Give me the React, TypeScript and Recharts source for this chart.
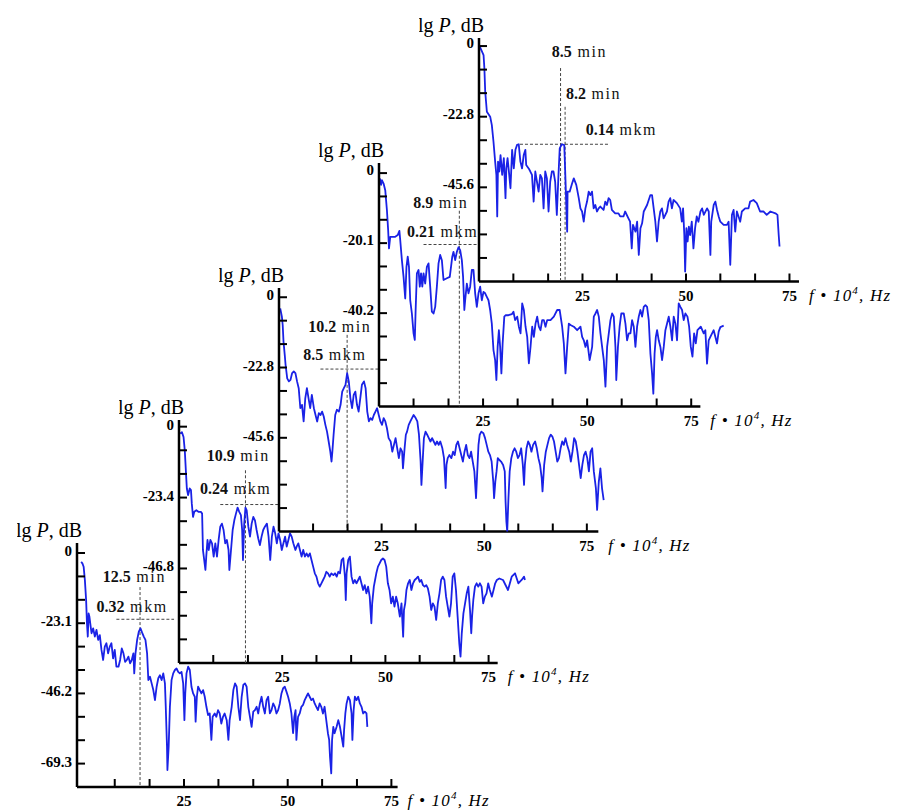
import React from 'react';
import {
  LineChart,
  Line,
  XAxis,
  YAxis,
  CartesianGrid,
  ReferenceLine,
  ReferenceDot,
} from 'recharts';

type Pair = [number, number];

const SERIF = '"Liberation Serif", "DejaVu Serif", serif';
const CURVE = '#1a22e6';
const GUIDE = '#444';

// lg P (dB) against f·10^4 (Hz); one spectrum per panel, front panel first
const spectrum125: Pair[] = [
  [0.2, -2.9], [0.5, -3.4], [0.8, -4.5], [1.1, -8.9], [1.4, -15.5], [1.6, -23.1], [1.8, -27.5], [2.0, -19.9],
  [2.2, -21.0], [2.5, -24.2], [2.7, -26.4], [3.1, -24.8], [3.5, -27.5], [3.9, -25.3], [4.3, -28.6], [4.7, -27.0],
  [5.1, -31.9], [5.5, -35.2], [5.9, -30.8], [6.3, -29.7], [6.7, -33.0], [7.1, -30.8], [7.5, -29.7], [7.9, -34.7],
  [8.3, -31.9], [8.7, -37.4], [9.2, -37.4], [9.6, -35.2], [10.0, -31.4], [10.4, -33.0], [10.8, -35.8], [11.2, -35.2],
  [11.6, -34.1], [12.0, -36.3], [12.4, -35.2], [12.8, -33.0], [13.0, -39.6], [13.3, -33.0], [13.7, -28.6], [14.1, -25.9],
  [14.5, -24.8], [14.9, -26.2], [15.3, -27.5], [15.7, -28.6], [16.1, -33.0], [16.4, -41.8], [16.8, -40.7], [17.2, -42.9],
  [17.6, -45.1], [18.0, -48.4], [18.4, -44.0], [18.8, -41.2], [19.2, -40.2], [19.6, -41.8], [20.0, -39.6], [20.4, -42.9],
  [20.6, -50.6], [20.9, -63.7], [21.0, -71.4], [21.3, -63.7], [21.6, -50.6], [22.0, -41.8], [22.4, -39.6], [22.8, -38.5],
  [23.2, -38.0], [23.6, -39.1], [24.0, -39.6], [24.4, -39.1], [24.8, -42.9], [25.1, -55.0], [25.3, -46.2], [25.6, -39.6],
  [26.0, -37.4], [26.4, -38.5], [26.8, -44.0], [27.2, -46.2], [27.6, -47.3], [27.8, -55.5], [28.1, -47.3], [28.4, -44.0],
  [28.8, -45.1], [29.2, -46.2], [29.6, -45.1], [30.0, -47.3], [30.4, -50.6], [30.8, -53.3], [31.2, -52.8], [31.6, -61.5],
  [31.9, -53.9], [32.4, -52.8], [32.8, -53.9], [33.2, -51.7], [33.6, -52.8], [34.0, -56.1], [34.4, -53.9], [34.8, -52.8],
  [35.3, -55.0], [35.7, -61.5], [36.0, -55.0], [36.5, -50.6], [36.9, -45.1], [37.3, -42.9], [37.7, -44.0], [38.1, -50.6],
  [38.5, -55.0], [38.9, -47.3], [39.3, -43.4], [39.7, -42.9], [40.1, -44.0], [40.5, -50.6], [40.9, -53.9], [41.3, -57.2],
  [41.7, -52.2], [42.1, -51.7], [42.5, -50.6], [42.9, -52.8], [43.3, -49.5], [43.7, -47.3], [44.1, -50.6], [44.5, -52.8],
  [44.9, -48.4], [45.3, -47.3], [45.7, -52.8], [46.1, -51.7], [46.5, -49.5], [46.9, -50.6], [47.3, -52.8], [47.7, -51.7],
  [48.1, -49.5], [48.5, -46.2], [48.9, -44.5], [49.3, -44.0], [49.7, -45.6], [50.1, -47.3], [50.5, -49.5], [50.9, -52.8],
  [51.3, -59.3], [51.6, -53.9], [51.9, -51.7], [52.1, -61.5], [52.5, -53.9], [52.9, -52.8], [53.3, -50.6], [53.7, -50.0],
  [54.1, -48.4], [54.5, -47.3], [54.9, -46.2], [55.3, -47.3], [55.7, -48.4], [56.1, -47.9], [56.5, -49.5], [56.9, -50.6],
  [57.3, -51.7], [57.7, -49.5], [58.1, -50.6], [58.5, -52.8], [58.9, -50.6], [59.3, -55.0], [59.7, -59.3], [60.0, -61.5],
  [60.2, -67.0], [60.5, -72.5], [60.7, -61.5], [61.0, -57.2], [61.3, -59.3], [61.8, -57.2], [62.2, -55.0], [62.6, -57.2],
  [63.0, -60.4], [63.4, -63.7], [63.6, -58.2], [63.9, -52.8], [64.2, -49.5], [64.6, -47.3], [65.0, -48.4], [65.4, -52.8],
  [65.6, -61.5], [65.9, -51.7], [66.2, -47.3], [66.6, -48.4], [67.0, -47.3], [67.4, -49.5], [67.8, -50.6], [68.2, -52.8],
  [68.6, -52.2], [69.0, -52.8], [69.2, -57.2],
];

const spectrum109: Pair[] = [
  [0.3, -2.3], [0.7, -1.8], [1.1, -3.4], [1.4, -7.8], [1.7, -15.5], [1.9, -20.4], [2.2, -22.6], [2.6, -20.4],
  [2.9, -20.9], [3.1, -25.4], [3.4, -29.8], [3.7, -28.1], [4.2, -27.6], [4.7, -28.1], [5.3, -28.1], [5.6, -28.7],
  [5.8, -40.7], [6.1, -44.0], [6.4, -47.3], [6.6, -42.9], [6.9, -37.4], [7.2, -40.7], [7.6, -37.4], [8.0, -38.5],
  [8.4, -42.9], [8.8, -38.5], [9.2, -42.9], [9.6, -37.4], [10.0, -33.0], [10.4, -32.0], [10.8, -34.1], [11.2, -38.5],
  [11.6, -37.4], [12.0, -40.7], [12.2, -47.3], [12.6, -40.7], [13.0, -34.1], [13.4, -30.9], [13.8, -28.7], [14.2, -26.7],
  [14.6, -28.1], [15.0, -29.2], [15.3, -34.1], [15.5, -44.0], [15.8, -32.0], [16.1, -26.7], [16.4, -27.6], [16.8, -33.0],
  [17.2, -36.3], [17.6, -32.0], [18.0, -29.8], [18.4, -30.9], [18.8, -34.1], [19.2, -36.9], [19.6, -39.1], [20.0, -36.3],
  [20.4, -34.1], [20.8, -33.0], [21.3, -32.0], [21.7, -36.3], [22.1, -44.0], [22.5, -36.3], [22.9, -33.0], [23.3, -35.2],
  [23.7, -38.5], [24.1, -35.2], [24.5, -37.4], [24.9, -40.7], [25.3, -38.5], [25.7, -36.3], [26.1, -39.6], [26.5, -37.4],
  [26.9, -35.2], [27.3, -36.3], [27.7, -38.5], [28.2, -40.7], [28.5, -39.6], [28.9, -38.5], [29.3, -40.7], [29.7, -42.9],
  [30.1, -40.7], [30.5, -42.9], [30.9, -41.8], [31.3, -42.9], [31.7, -41.8], [32.1, -44.0], [32.5, -46.2], [32.9, -48.4],
  [33.3, -49.5], [33.7, -51.7], [34.1, -52.8], [34.5, -51.7], [34.9, -50.6], [35.3, -49.5], [35.7, -47.9], [36.1, -48.4],
  [36.5, -49.5], [36.9, -48.4], [37.4, -49.0], [37.8, -48.4], [38.2, -49.5], [38.6, -47.9], [39.0, -48.4], [39.4, -44.0],
  [39.8, -43.4], [40.2, -49.5], [40.4, -57.2], [40.6, -48.4], [41.0, -44.0], [41.4, -42.9], [41.8, -49.5], [42.2, -51.7],
  [42.6, -50.6], [43.0, -51.7], [43.4, -50.6], [43.8, -49.5], [44.2, -51.7], [44.6, -53.9], [45.0, -52.3], [45.4, -55.0],
  [45.8, -52.8], [46.2, -56.1], [46.6, -64.9], [46.8, -58.3], [47.2, -52.8], [47.5, -50.6], [47.8, -48.4], [48.2, -46.2],
  [48.6, -45.1], [49.0, -44.0], [49.4, -43.5], [49.8, -44.0], [50.2, -46.2], [50.6, -51.7], [51.0, -53.9], [51.4, -58.3],
  [51.8, -56.1], [52.2, -59.4], [52.6, -56.1], [53.0, -58.3], [53.5, -62.7], [53.9, -58.3], [54.3, -69.3], [54.5, -60.5],
  [54.8, -58.3], [55.1, -53.9], [55.5, -51.7], [55.9, -50.6], [56.3, -53.9], [56.7, -51.7], [57.1, -50.6], [57.5, -50.1],
  [57.9, -49.5], [58.3, -51.2], [58.7, -50.6], [59.1, -52.3], [59.5, -52.8], [59.9, -52.3], [60.3, -53.4], [60.7, -56.1],
  [61.1, -60.5], [61.5, -58.3], [61.9, -59.4], [62.3, -63.8], [62.7, -58.3], [63.1, -55.0], [63.5, -50.6], [63.9, -49.5],
  [64.3, -50.6], [64.7, -56.1], [65.1, -59.4], [65.5, -62.7], [65.9, -58.3], [66.3, -49.5], [66.7, -48.4], [67.1, -53.9],
  [67.5, -62.7], [67.9, -71.5], [68.2, -75.9], [68.5, -68.2], [68.9, -61.6], [69.3, -58.3], [69.7, -55.0], [70.1, -52.8],
  [70.5, -60.5], [70.8, -68.2], [71.0, -62.7], [71.3, -57.2], [71.7, -52.8], [72.1, -51.7], [72.5, -52.8], [72.9, -51.7],
  [73.3, -52.8], [73.7, -58.3], [74.1, -56.1], [74.5, -55.0], [74.9, -51.7], [75.3, -53.9], [75.8, -56.1], [76.2, -53.9],
  [76.6, -51.7], [77.0, -50.6], [77.6, -50.1], [78.5, -50.6], [79.7, -53.9], [80.6, -49.5], [81.4, -48.4], [82.2, -51.7],
  [83.0, -50.6], [83.6, -49.5], [83.8, -50.6],
];

const spectrum102: Pair[] = [
  [0.3, -3.6], [0.7, -6.3], [0.9, -9.0], [1.1, -14.4], [1.4, -18.7], [1.6, -21.9], [2.0, -26.3], [2.4, -27.3],
  [2.8, -26.8], [3.2, -24.6], [3.6, -24.1], [4.0, -24.6], [4.4, -27.3], [4.8, -29.5], [5.2, -36.0], [5.6, -34.9],
  [6.0, -40.3], [6.4, -32.8], [6.8, -29.5], [7.2, -32.8], [7.6, -36.0], [8.0, -31.7], [8.5, -36.0], [8.9, -38.2],
  [9.3, -40.3], [9.7, -37.6], [10.1, -38.2], [10.5, -37.1], [10.9, -38.7], [11.3, -41.4], [11.7, -43.6], [12.1, -46.8],
  [12.5, -50.1], [12.8, -53.3], [13.0, -50.1], [13.3, -44.6], [13.7, -38.2], [14.1, -36.5], [14.6, -37.1], [15.0, -34.9],
  [15.4, -30.6], [15.8, -29.5], [16.2, -28.4], [16.6, -24.6], [17.0, -27.3], [17.4, -32.8], [17.8, -36.0], [18.2, -31.7],
  [18.6, -30.6], [19.0, -34.9], [19.4, -37.1], [19.8, -32.8], [20.2, -28.4], [20.7, -27.3], [21.1, -29.5], [21.5, -37.1],
  [21.9, -40.3], [22.3, -39.2], [22.7, -39.8], [23.1, -38.2], [23.5, -37.1], [23.9, -36.0], [24.3, -38.2], [24.7, -40.3],
  [25.1, -41.4], [25.5, -39.2], [25.9, -40.3], [26.3, -42.5], [26.7, -45.7], [27.2, -46.8], [27.6, -50.1], [28.0, -47.9],
  [28.4, -45.7], [28.8, -49.0], [29.2, -52.2], [29.6, -49.0], [30.0, -50.1], [30.2, -55.5], [30.6, -49.0], [30.9, -44.6],
  [31.2, -43.6], [31.6, -41.4], [32.0, -40.3], [32.4, -39.2], [32.8, -38.2], [33.3, -39.2], [33.7, -40.3], [34.1, -44.6],
  [34.5, -53.3], [34.7, -60.9], [35.0, -53.3], [35.3, -45.7], [35.7, -43.6], [36.1, -44.6], [36.5, -45.7], [36.9, -46.8],
  [37.3, -45.7], [37.7, -46.8], [38.1, -47.9], [38.5, -46.8], [38.9, -47.9], [39.3, -46.8], [39.8, -49.0], [40.2, -52.2],
  [40.6, -61.9], [40.8, -54.4], [41.1, -52.2], [41.5, -51.2], [42.0, -52.2], [42.4, -50.1], [42.8, -51.2], [43.2, -47.9],
  [43.6, -46.8], [44.0, -49.0], [44.4, -51.2], [44.8, -53.3], [45.2, -50.1], [45.6, -47.9], [46.0, -51.2], [46.4, -52.2],
  [46.8, -50.1], [47.2, -53.3], [47.6, -56.5], [48.0, -65.2], [48.3, -56.5], [48.6, -47.9], [48.9, -44.6], [49.3, -43.6],
  [49.8, -44.1], [50.2, -45.7], [50.6, -47.9], [51.0, -50.1], [51.4, -51.2], [51.8, -53.3], [52.2, -59.8], [52.4, -65.2],
  [52.7, -59.8], [53.0, -56.5], [53.3, -52.2], [53.7, -52.8], [54.1, -53.3], [54.6, -54.4], [55.0, -56.5], [55.2, -66.3],
  [55.4, -72.8], [55.6, -76.0], [55.9, -65.2], [56.2, -56.5], [56.6, -52.2], [57.0, -50.1], [57.4, -49.0], [57.8, -50.1],
  [58.2, -52.2], [58.6, -51.2], [59.0, -49.0], [59.4, -54.4], [59.7, -60.9], [59.9, -54.4], [60.3, -49.0], [60.7, -46.8],
  [61.1, -47.9], [61.5, -50.1], [61.9, -47.9], [62.4, -46.8], [62.8, -49.0], [63.2, -52.2], [63.6, -54.4], [64.0, -58.7],
  [64.2, -63.0], [64.6, -54.4], [65.0, -50.1], [65.4, -47.9], [65.8, -45.7], [66.2, -44.6], [66.6, -45.2], [67.0, -46.8],
  [67.4, -50.1], [67.8, -53.3], [68.2, -52.2], [68.6, -49.0], [69.0, -46.8], [69.4, -47.9], [69.8, -45.7], [70.2, -47.9],
  [70.7, -50.1], [71.1, -53.3], [71.5, -50.1], [71.9, -45.7], [72.3, -46.8], [72.7, -50.1], [73.1, -54.4], [73.5, -58.7],
  [73.9, -54.4], [74.3, -51.2], [74.7, -50.1], [75.1, -52.2], [75.5, -56.5], [75.9, -50.1], [76.3, -49.0], [76.7, -56.5],
  [77.2, -61.9], [77.5, -69.0], [77.9, -60.0], [78.3, -55.5], [78.7, -62.0], [79.1, -65.8],
];

const spectrum89: Pair[] = [
  [0.2, -1.5], [0.5, -3.4], [0.7, -2.0], [1.1, -3.0], [1.5, -4.9], [1.9, -10.6], [2.2, -16.4], [2.4, -21.6],
  [2.7, -18.3], [3.1, -18.3], [3.9, -18.3], [4.5, -17.8], [4.9, -16.6], [5.1, -19.2], [5.5, -25.0], [5.9, -29.8],
  [6.3, -36.0], [6.6, -26.9], [6.9, -24.0], [7.2, -26.9], [7.5, -36.5], [7.9, -40.3], [8.3, -46.0], [8.6, -47.9],
  [8.8, -39.3], [9.1, -28.8], [9.5, -27.8], [9.8, -32.6], [10.1, -28.8], [10.4, -32.6], [10.7, -28.8], [11.1, -31.7],
  [11.5, -26.9], [11.9, -25.9], [12.3, -32.6], [12.7, -39.8], [13.1, -40.3], [13.5, -38.4], [13.9, -32.6], [14.3, -25.9],
  [14.7, -23.5], [15.1, -25.0], [15.5, -30.7], [16.3, -30.2], [17.0, -29.8], [17.3, -26.9], [17.6, -24.0], [17.9, -22.6],
  [18.3, -25.0], [18.7, -22.6], [19.1, -21.3], [19.5, -22.1], [19.9, -25.0], [20.2, -29.8], [20.5, -39.3], [20.7, -36.5],
  [21.1, -31.7], [21.5, -34.5], [21.9, -32.6], [22.3, -27.8], [22.7, -27.8], [23.1, -34.5], [23.5, -38.4], [23.9, -34.5],
  [24.3, -32.6], [24.7, -36.5], [25.1, -34.1], [25.5, -34.5], [25.9, -35.5], [26.3, -36.5], [26.7, -39.3], [27.1, -43.2],
  [27.5, -50.8], [27.9, -53.7], [28.2, -59.4], [28.5, -49.9], [28.8, -45.1], [29.1, -49.9], [29.4, -57.5], [29.7, -48.9],
  [30.1, -41.2], [30.4, -40.8], [31.1, -40.8], [31.9, -40.5], [32.3, -39.8], [32.7, -42.2], [33.2, -41.2], [33.6, -44.1],
  [34.0, -46.0], [34.4, -37.4], [34.8, -39.3], [35.2, -44.1], [35.6, -47.0], [36.0, -54.6], [36.4, -49.9], [36.8, -44.1],
  [37.2, -47.0], [37.6, -43.2], [38.0, -41.2], [38.4, -44.1], [38.8, -45.1], [39.2, -42.2], [39.6, -42.2], [40.0, -44.1],
  [40.4, -42.2], [41.2, -42.2], [42.0, -41.2], [42.8, -39.3], [43.4, -39.3], [44.0, -44.1], [44.4, -48.9], [44.8, -57.5],
  [45.2, -49.9], [45.6, -43.2], [46.0, -43.6], [46.8, -44.1], [47.6, -45.1], [48.4, -44.1], [48.8, -47.0], [49.2, -48.0],
  [49.6, -49.9], [50.0, -48.0], [50.6, -53.7], [51.2, -49.9], [51.6, -41.2], [52.0, -40.3], [52.4, -39.3], [52.8, -41.2],
  [53.2, -46.0], [53.6, -49.9], [54.0, -53.7], [54.4, -61.3], [54.8, -49.9], [55.2, -46.0], [55.6, -42.2], [56.0, -40.3],
  [56.4, -41.2], [56.8, -49.9], [57.0, -59.4], [57.4, -49.9], [57.8, -44.1], [58.2, -40.3], [58.8, -40.3], [59.2, -43.2],
  [59.6, -48.0], [60.0, -46.0], [60.4, -46.0], [60.8, -42.2], [61.2, -44.1], [61.6, -49.9], [62.0, -44.1], [62.4, -41.2],
  [62.8, -39.3], [63.2, -41.2], [63.6, -38.4], [64.0, -37.9], [64.4, -38.4], [64.8, -42.2], [65.2, -51.8], [65.6, -57.5],
  [65.9, -63.3], [66.2, -51.8], [66.5, -47.0], [66.8, -45.1], [67.2, -48.0], [67.6, -49.9], [68.0, -53.7], [68.4, -49.9],
  [68.8, -45.1], [69.2, -43.2], [69.6, -41.2], [70.0, -44.1], [70.4, -48.0], [70.8, -41.2], [71.2, -43.2], [71.6, -48.0],
  [72.0, -37.4], [72.4, -38.4], [72.8, -39.3], [73.2, -42.2], [73.6, -40.3], [74.1, -41.2], [74.5, -44.1], [74.9, -49.9],
  [75.3, -52.7], [75.7, -46.0], [76.1, -48.9], [76.5, -45.1], [77.3, -44.1], [78.0, -46.0], [78.4, -45.1], [78.8, -54.7],
  [79.2, -48.0], [79.6, -47.0], [80.4, -45.1], [81.2, -48.9], [81.6, -45.5], [82.0, -44.2], [82.8, -43.8],
];

const spectrum85: Pair[] = [
  [0.2, -0.2], [1.1, -2.9], [1.3, -7.2], [1.5, -14.7], [1.9, -21.2], [2.7, -22.8], [3.1, -25.5], [3.5, -30.9],
  [3.9, -37.3], [4.2, -41.6], [4.4, -55.0], [4.6, -37.3], [4.9, -40.5], [5.2, -35.2], [5.6, -41.6], [6.0, -36.2],
  [6.4, -49.1], [6.6, -39.5], [6.9, -36.2], [7.3, -41.6], [7.6, -45.9], [8.0, -33.5], [8.4, -39.5], [8.8, -33.5],
  [9.2, -31.9], [9.6, -31.7], [10.0, -37.3], [10.4, -39.5], [10.8, -35.2], [11.2, -33.5], [11.4, -38.4], [12.0, -39.5],
  [12.4, -40.5], [12.8, -41.6], [13.2, -50.2], [13.6, -40.5], [14.0, -43.8], [14.4, -47.0], [14.8, -41.6], [15.2, -42.7],
  [15.6, -52.4], [16.0, -40.5], [16.4, -42.7], [16.8, -53.4], [17.2, -43.8], [17.6, -40.5], [18.0, -40.5], [18.4, -43.8],
  [18.8, -54.5], [19.2, -41.6], [19.5, -33.0], [20.0, -31.7], [20.6, -32.0], [20.8, -39.5], [21.3, -59.9], [21.4, -47.0],
  [21.9, -47.0], [22.5, -44.3], [22.9, -42.7], [23.5, -44.8], [24.1, -49.1], [24.5, -52.4], [24.9, -53.4], [25.3, -56.7],
  [25.7, -52.4], [26.1, -50.2], [26.5, -47.0], [26.9, -48.1], [27.3, -47.0], [27.7, -52.4], [28.1, -51.3], [28.5, -53.4],
  [28.9, -52.4], [29.3, -51.8], [30.1, -52.9], [30.5, -50.2], [30.9, -51.3], [31.3, -49.1], [31.7, -49.7], [32.1, -52.9],
  [32.9, -54.0], [33.7, -54.0], [34.1, -55.0], [34.9, -55.0], [35.3, -53.4], [36.1, -55.6], [36.5, -56.7], [36.9, -65.3],
  [37.2, -57.7], [37.8, -59.9], [38.2, -56.7], [38.6, -67.4], [39.0, -58.8], [39.4, -57.2], [39.8, -53.4], [40.6, -51.3],
  [41.4, -48.1], [41.8, -48.1], [42.2, -52.4], [42.6, -56.7], [43.0, -63.1], [43.4, -56.7], [43.8, -53.4], [44.2, -52.4],
  [44.6, -55.6], [45.4, -53.4], [45.8, -50.2], [46.2, -49.1], [46.6, -52.4], [47.0, -49.7], [47.8, -50.7], [48.6, -52.4],
  [49.0, -56.7], [49.3, -52.4], [49.6, -61.0], [49.8, -72.8], [50.1, -58.8], [50.4, -63.1], [50.7, -58.3], [51.0, -61.0],
  [51.4, -56.7], [51.8, -65.3], [52.2, -58.8], [52.6, -55.0], [53.0, -56.7], [53.5, -53.4], [53.9, -52.4], [54.3, -54.5],
  [55.1, -52.4], [55.5, -53.4], [55.9, -67.4], [56.1, -56.7], [56.7, -51.3], [57.1, -50.2], [57.5, -52.9], [57.9, -55.0],
  [58.3, -56.7], [59.1, -57.7], [59.9, -57.7], [60.3, -56.7], [60.7, -70.6], [61.1, -54.5], [61.5, -52.9], [61.9, -59.9],
  [62.3, -53.4], [63.1, -56.7], [63.5, -53.4], [64.3, -52.4], [65.1, -52.4], [65.5, -50.2], [66.3, -49.7], [67.1, -50.7],
  [67.9, -53.4], [68.7, -53.4], [69.5, -54.5], [70.4, -53.4], [71.6, -54.0], [72.1, -54.5], [72.4, -61.0], [72.6, -64.7],
];

const fTicks = [8.3, 16.7, 25, 33.3, 41.7, 50, 58.3, 66.7, 75];
const fLabels = [25, 50, 75];

const dbTicks125 = [0, -7.7, -15.4, -23.1, -30.8, -38.5, -46.2, -53.9, -61.6, -69.3];
const dbTicks109 = [0, -7.8, -15.6, -23.4, -31.2, -39, -46.8, -54.6, -62.4, -70.2];
const dbTicks102 = [0, -7.6, -15.2, -22.8, -30.4, -38, -45.6, -53.2, -60.8, -68.4];
const dbTicks89 = [0, -6.7, -13.4, -20.1, -26.8, -33.5, -40.2, -46.9, -53.6, -60.3];
const dbTicks85 = [0, -7.6, -15.2, -22.8, -30.4, -38, -45.6, -53.2, -60.8, -68.4];

const dbLabels125 = [0, -23.1, -46.2, -69.3];
const dbLabels109 = [0, -23.4, -46.8];
const dbLabels102 = [0, -22.8, -45.6];
const dbLabels89 = [0, -20.1, -40.2];
const dbLabels85 = [0, -22.8, -45.6];

// marked peaks: frequency of each period line, level line (dB), captions
const peakF = [[14.4], [16.1], [16.6], [19.3], [19.7, 20.8]];
const peakLevel = [-21.8, -25.7, -23.3, -20.5, -31.7];
const peakPeriod = [['12.5'], ['10.9'], ['10.2'], ['8.9'], ['8.5', '8.2']];
const peakAmp = ['0.32', '0.24', '8.5', '0.21', '0.14'];

const Y_W = 60;
const X_H = 40;
const M_TOP = 30;
const M_RIGHT = 80;

type PanelSpec = {
  data: Pair[];
  dbTicks: number[];
  dbLabels: number[];
  labelDy: number;
  box: { left: number; top: number; width: number; height: number };
  fDomain: [number, number];
  dbDomain: [number, number];
  axisEnd: number;
  lineTop: number[];
  levelSpan: [number, number];
  periodAt: Pair[];
  ampAt: Pair;
};

const PANELS: PanelSpec[] = [
  {
    data: spectrum125, dbTicks: dbTicks125, dbLabels: dbLabels125, labelDy: 3,
    box: { left: 77, top: 543, width: 360, height: 244 },
    fDomain: [-0.8, 86], dbDomain: [-77, 3.3], axisEnd: 76.5,
    lineTop: [-11.2], levelSpan: [8.7, 22.6], periodAt: [[5.4, -9.6]], ampAt: [3.9, -19.5],
  },
  {
    data: spectrum109, dbTicks: dbTicks109, dbLabels: dbLabels109, labelDy: 3,
    box: { left: 179, top: 420, width: 355, height: 243 },
    fDomain: [0, 86], dbDomain: [-78, 2.2], axisEnd: 77.2,
    lineTop: [-14.4], levelSpan: [10, 24.5], periodAt: [[6.7, -11.2]], ampAt: [5.1, -22.3],
  },
  {
    data: spectrum102, dbTicks: dbTicks102, dbLabels: dbLabels102, labelDy: 3,
    box: { left: 279, top: 288, width: 353, height: 243.5 },
    fDomain: [0, 86], dbDomain: [-76, 3], axisEnd: 77.8,
    lineTop: [-12.2], levelSpan: [10.1, 25], periodAt: [[7.1, -11.4]], ampAt: [5.9, -20.4],
  },
  {
    data: spectrum89, dbTicks: dbTicks89, dbLabels: dbLabels89, labelDy: 2,
    box: { left: 379, top: 163, width: 358, height: 243.5 },
    fDomain: [0, 86], dbDomain: [-67, 2.9], axisEnd: 77.2,
    lineTop: [-10.8], levelSpan: [10.7, 23.6], periodAt: [[8.2, -10.0]], ampAt: [6.7, -18.3],
  },
  {
    data: spectrum85, dbTicks: dbTicks85, dbLabels: dbLabels85, labelDy: 2,
    box: { left: 479, top: 38, width: 356, height: 243.5 },
    fDomain: [0, 86], dbDomain: [-76, 2.6], axisEnd: 77.3,
    lineTop: [-7.1, -19.6], levelSpan: [9.9, 31.6], periodAt: [[17.6, -3.5], [21.0, -17.0]], ampAt: [25.8, -28.7],
  },
];

const FTick = (props: any) => {
  const { x, y, payload } = props;
  return (
    <g>
      <line x1={x} x2={x} y1={y} y2={y - 8} stroke="#000" strokeWidth={2} />
      {fLabels.includes(payload.value) && (
        <text x={x} y={y + 19} textAnchor="middle" fontFamily={SERIF} fontSize={15} fontWeight="bold" fill="#000">
          {payload.value}
        </text>
      )}
    </g>
  );
};

const DbTick = (props: any) => {
  const { x, y, payload, labels, dy } = props;
  return (
    <g>
      <line x1={x} x2={x + 8} y1={y} y2={y} stroke="#000" strokeWidth={2} />
      {labels.includes(payload.value) && (
        <text x={x - 5} y={y + dy} textAnchor="end" fontFamily={SERIF} fontSize={15} fontWeight="bold" fill="#000">
          {payload.value}
        </text>
      )}
    </g>
  );
};

// bold number followed by a wider, regular unit
const caption = (num: string, unit: string) => (s: any) => (
  <text x={s.cx} y={s.cy} fontFamily={SERIF} fill="#111">
    <tspan fontWeight="bold" fontSize={16}>{num}</tspan>
    <tspan fontSize={16} letterSpacing={1.6}> {unit}</tspan>
  </text>
);

const Panel = ({ p, i }: { p: PanelSpec; i: number }) => {
  const [fMin, fMax] = p.fDomain;
  const [dbMin, dbMax] = p.dbDomain;
  const rows = p.data.map(([f, db]) => ({ f, db }));
  return (
    <div style={{ position: 'absolute', left: p.box.left - Y_W, top: p.box.top - M_TOP }}>
      <LineChart
        width={Y_W + p.box.width + M_RIGHT}
        height={M_TOP + p.box.height + X_H}
        data={rows}
        margin={{ top: M_TOP, right: M_RIGHT, bottom: 0, left: 0 }}
      >
        <CartesianGrid horizontal={false} vertical={false} fill="#ffffff" fillOpacity={1} />
        <XAxis
          type="number"
          dataKey="f"
          domain={[fMin, fMax]}
          allowDataOverflow
          ticks={fTicks}
          interval={0}
          height={X_H}
          axisLine={false}
          tickLine={false}
          tickSize={0}
          tickMargin={0}
          tick={(t: any) => <FTick {...t} />}
        />
        <YAxis
          type="number"
          domain={[dbMin, dbMax]}
          allowDataOverflow
          ticks={p.dbTicks}
          interval={0}
          width={Y_W}
          axisLine={{ stroke: '#000', strokeWidth: 2.5 }}
          tickLine={false}
          tickSize={0}
          tickMargin={0}
          tick={(t: any) => <DbTick {...t} labels={p.dbLabels} dy={p.labelDy} />}
        />
        <ReferenceLine
          segment={[{ x: fMin, y: dbMin }, { x: p.axisEnd, y: dbMin }]}
          stroke="#000"
          strokeWidth={2.5}
          ifOverflow="visible"
        />
        {peakF[i].map((f, k) => (
          <ReferenceLine
            key={`v${k}`}
            segment={[{ x: f, y: p.lineTop[k] }, { x: f, y: dbMin }]}
            stroke={GUIDE}
            strokeWidth={1}
            strokeDasharray="3 2"
            ifOverflow="visible"
          />
        ))}
        <ReferenceLine
          segment={[{ x: p.levelSpan[0], y: peakLevel[i] }, { x: p.levelSpan[1], y: peakLevel[i] }]}
          stroke={GUIDE}
          strokeWidth={1}
          strokeDasharray="3 2"
          ifOverflow="visible"
        />
        <Line
          type="linear"
          dataKey="db"
          stroke={CURVE}
          strokeWidth={1.8}
          strokeLinejoin="round"
          dot={false}
          isAnimationActive={false}
        />
        {peakPeriod[i].map((num, k) => (
          <ReferenceDot
            key={`p${k}`}
            x={p.periodAt[k][0]}
            y={p.periodAt[k][1]}
            ifOverflow="visible"
            shape={caption(num, 'min')}
          />
        ))}
        <ReferenceDot x={p.ampAt[0]} y={p.ampAt[1]} ifOverflow="visible" shape={caption(peakAmp[i], 'mkm')} />
        <ReferenceDot
          x={fMin}
          y={dbMax}
          ifOverflow="visible"
          shape={(s: any) => (
            <text x={s.cx + 5} y={s.cy - 6} textAnchor="end" fontFamily={SERIF} fontSize={20} fill="#000">
              lg <tspan fontStyle="italic">P</tspan>, dB
            </text>
          )}
        />
        <ReferenceDot
          x={p.axisEnd}
          y={dbMin}
          ifOverflow="visible"
          shape={(s: any) => (
            <text
              x={s.cx + 10}
              y={s.cy + 19}
              fontFamily={SERIF}
              fontSize={17}
              fontStyle="italic"
              letterSpacing={1.2}
              fill="#000"
            >
              f • 10<tspan dy={-7} fontSize={11}>4</tspan>
              <tspan dy={7}>,  Hz</tspan>
            </text>
          )}
        />
      </LineChart>
    </div>
  );
};

export default function App() {
  return (
    <div
      style={{
        position: 'fixed',
        left: 0,
        top: 0,
        width: 899,
        height: 810,
        overflow: 'hidden',
        background: '#fff',
        fontFamily: SERIF,
      }}
    >
      {PANELS.map((p, i) => (
        <Panel key={i} p={p} i={i} />
      ))}
    </div>
  );
}
